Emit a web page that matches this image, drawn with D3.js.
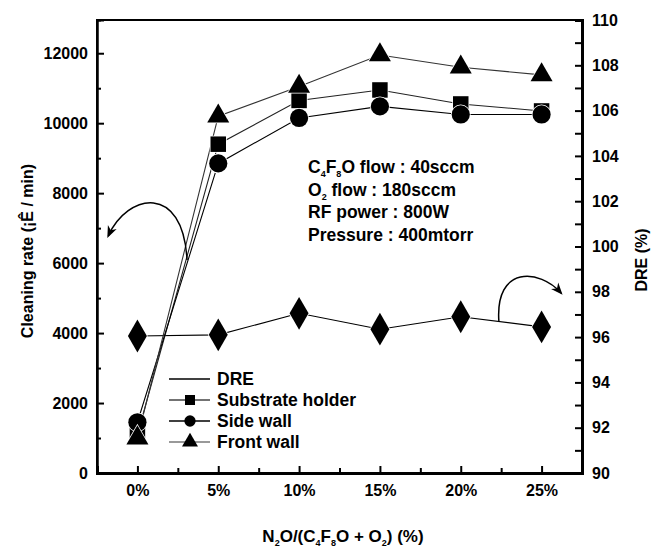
<!DOCTYPE html>
<meta charset="utf-8">
<style>
body { margin: 0; background: #fff; }
text { font-family: "Liberation Sans", Arial, sans-serif; font-weight: bold; fill: #000; }
</style>
<body>
<div id="box1"></div>
<script src="https://cdn.jsdelivr.net/npm/d3@7"></script>
<script>

// N2O/(C4F8O + O2) ratio (%)
var ratios = [0, 5, 10, 15, 20, 25];
// DRE (%) - right axis
var dre = [96.05, 96.1, 97.05, 96.35, 96.9, 96.45];
// cleaning rate - left axis
var substrateHolder = [1100, 9400, 10650, 10950, 10550, 10350];
var sideWall = [1450, 8850, 10150, 10480, 10250, 10250];
var frontWall = [1000, 10200, 11050, 11950, 11600, 11380];

var leftTicks = [0, 2000, 4000, 6000, 8000, 10000, 12000];
var rightTicks = [90, 92, 94, 96, 98, 100, 102, 104, 106, 108, 110];
var xTickLabels = ["0%", "5%", "10%", "15%", "20%", "25%"];

var notes = [
  [["C", ""], ["4", "sub"], ["F", ""], ["8", "sub"], ["O flow : 40sccm", ""]],
  [["O", ""], ["2", "sub"], [" flow : 180sccm", ""]],
  [["RF power : 800W", ""]],
  [["Pressure : 400mtorr", ""]]
];

var width = 655, height = 548;
var margin = {top: 20, right: 73, bottom: 75, left: 97};

var x = d3.scaleLinear([-2.5, 27.5], [margin.left, width - margin.right]);
var yL = d3.scaleLinear([0, 12950], [height - margin.bottom, margin.top]);
var yR = d3.scaleLinear([90, 110], [height - margin.bottom, margin.top]);

var svg = d3.select("#box1").append("svg")
    .attr("width", width)
    .attr("height", height);

var x0 = margin.left, x1 = width - margin.right;
var y0 = height - margin.bottom, y1 = margin.top;

// frame top + left
svg.append("path")
    .attr("d", "M" + x0 + "," + y0 + "V" + y1 + "H" + x1)
    .attr("fill", "none").attr("stroke", "#000").attr("stroke-width", 2);

// left axis
var gl = svg.append("g").attr("transform", "translate(" + x0 + ",0)");
gl.call(d3.axisLeft(yL).tickValues(leftTicks).tickSize(-7).tickPadding(9).tickFormat(d3.format("d")));
gl.append("g").call(d3.axisLeft(yL).tickValues(d3.range(1000, 13000, 2000)).tickSize(-4).tickFormat(""));

// right axis
var gr = svg.append("g").attr("transform", "translate(" + x1 + ",0)");
gr.call(d3.axisRight(yR).tickValues(rightTicks).tickSize(-7).tickPadding(10));
gr.append("g").call(d3.axisRight(yR).tickValues(d3.range(91, 110, 2)).tickSize(-7).tickFormat(""));

// bottom axis
var gb = svg.append("g").attr("transform", "translate(0," + y0 + ")");
gb.call(d3.axisBottom(x).tickValues(ratios).tickSize(-7).tickPadding(12).tickFormat((d, i) => xTickLabels[i]));
gb.append("g").call(d3.axisBottom(x).tickValues(d3.range(2.5, 25, 5)).tickSize(-5).tickFormat(""));

svg.selectAll(".domain").attr("stroke-width", 3);
gl.selectAll(".domain").attr("stroke-width", 2);
svg.selectAll(".tick line").attr("stroke-width", 2);
svg.selectAll(".tick text").style("font-size", "16px").style("font-family", '"Liberation Sans", Arial, sans-serif');

// series
var series = [
  {name: "DRE", vals: dre, y: yR, sym: d3.symbolDiamond, size: 240, color: "#000"},
  {name: "Substrate holder", vals: substrateHolder, y: yL, sym: d3.symbolSquare, size: 240, color: "#222"},
  {name: "Side wall", vals: sideWall, y: yL, sym: d3.symbolCircle, size: 260, color: "#000"},
  {name: "Front wall", vals: frontWall, y: yL, sym: d3.symbolTriangle, size: 210, color: "#333"}
];

series.forEach(function(s) {
  var line = d3.line().x((d, i) => x(ratios[i])).y(d => s.y(d));
  svg.append("path")
      .datum(s.vals)
      .attr("d", line)
      .attr("fill", "none")
      .attr("stroke", s.color)
      .attr("stroke-width", 1.1);
});

series.forEach(function(s) {
  var sym = d3.symbol().type(s.sym).size(s.sym === d3.symbolDiamond ? s.size * 1.3 : s.size);
  svg.append("g").selectAll("path")
      .data(s.vals)
      .join("path")
      .attr("transform", (d, i) => "translate(" + x(ratios[i]) + "," + s.y(d) + ")")
      .attr("d", sym)
      .attr("fill", "#000")
      .attr("stroke", "#fff")
      .attr("stroke-width", 1.5)
      .attr("paint-order", "stroke");
});

// legend
var legend = svg.append("g").attr("transform", "translate(169,379)");
var rows = legend.selectAll("g")
    .data(series)
    .join("g")
    .attr("transform", (d, i) => "translate(0," + i * 21 + ")");
rows.append("line")
    .attr("x1", 0).attr("x2", 41)
    .attr("stroke", (d, i) => ["#000", "#444", "#000", "#777"][i])
    .attr("stroke-width", 1.3);
rows.filter((d, i) => i > 0).append("path")
    .attr("transform", "translate(21,0)")
    .attr("d", d => d3.symbol().type(d.sym).size(d.sym === d3.symbolTriangle ? 110 : 100)())
    .attr("fill", "#000");
rows.append("text")
    .attr("x", 48)
    .attr("dy", "0.36em")
    .style("font-size", "17.5px")
    .text(d => d.name);

// conditions text
var nt = svg.append("g").attr("transform", "translate(308,173)");
notes.forEach(function(parts, i) {
  var t = nt.append("text").attr("y", i * 22.5).style("font-size", "17.5px");
  parts.forEach(function(p) {
    if (p[1] === "sub") {
      t.append("tspan").attr("dy", 4).style("font-size", "9px").text(p[0]);
    } else {
      var ts = t.append("tspan").text(p[0]);
      if (t.selectAll("tspan").size() > 1) ts.attr("dy", -4);
    }
  });
});

// arrows
svg.append("defs").append("marker")
    .attr("id", "arr")
    .attr("viewBox", "0 0 10 10")
    .attr("refX", 8).attr("refY", 5)
    .attr("markerWidth", 8).attr("markerHeight", 8)
    .attr("orient", "auto")
    .append("path").attr("d", "M0,1L10,5L0,9L3,5Z").attr("fill", "#000");

var leftArrow = [[3.07, 6090], [2.82, 8300], [-0.6, 8000], [-1.8, 6780]];
var rightArrow = [[22.36, 96.67], [22.1, 99.2], [24.9, 99.0], [26.2, 97.95]];
function arrowPath(pts, ys) {
  var p = pts.map(d => [x(d[0]), ys(d[1])]);
  return "M" + p[0] + "C" + p[1] + " " + p[2] + " " + p[3];
}
svg.append("path").attr("d", arrowPath(leftArrow, yL))
    .attr("fill", "none").attr("stroke", "#000").attr("stroke-width", 1.5)
    .attr("marker-end", "url(#arr)");
svg.append("path").attr("d", arrowPath(rightArrow, yR))
    .attr("fill", "none").attr("stroke", "#000").attr("stroke-width", 1.5)
    .attr("marker-end", "url(#arr)");

// axis titles
svg.append("text")
    .attr("transform", "translate(33,251) rotate(-90)")
    .attr("text-anchor", "middle")
    .style("font-size", "16px")
    .text("Cleaning rate (¡Ê / min)");

svg.append("text")
    .attr("transform", "translate(647,260) rotate(-90)")
    .attr("text-anchor", "middle")
    .style("font-size", "16px")
    .text("DRE (%)");

var xt = svg.append("text")
    .attr("x", 343).attr("y", 542)
    .attr("text-anchor", "middle")
    .style("font-size", "17px");
[["N", 0], ["2", 1], ["O/(C", 0], ["4", 1], ["F", 0], ["8", 1], ["O + O", 0], ["2", 1], [") (%)", 0]]
  .forEach(function(p, i, arr) {
    var ts = xt.append("tspan").text(p[0]);
    if (p[1]) ts.attr("dy", 4).style("font-size", "9px");
    else if (i > 0) ts.attr("dy", -4);
  });

</script>
</body>
